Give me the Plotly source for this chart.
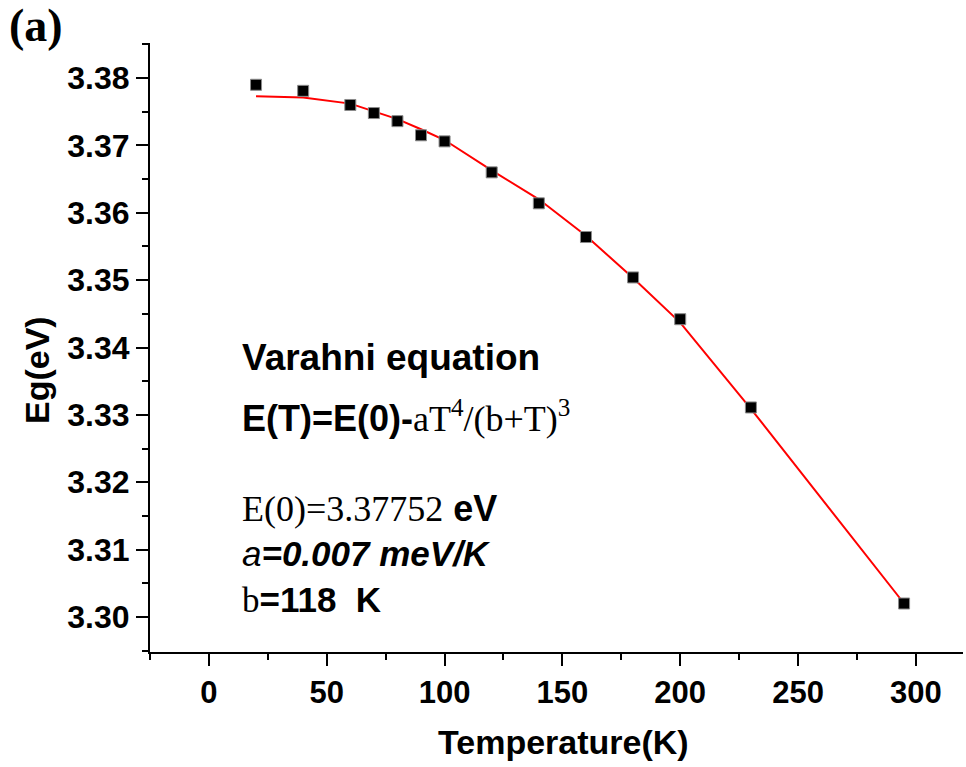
import plotly.graph_objects as go

# Measured band gap vs temperature
temperature = [20, 40, 60, 70, 80, 90, 100, 120, 140, 160, 180, 200, 230, 295]
eg_measured = [3.3790, 3.3781, 3.3760, 3.3748, 3.3736, 3.3715, 3.3706,
               3.3660, 3.3614, 3.3564, 3.3504, 3.3442, 3.3311, 3.3020]
# Fitted Varshni curve evaluated at the measured temperatures
eg_fit = [3.3773, 3.3771, 3.3762, 3.3751, 3.3739, 3.3724, 3.3708,
          3.3663, 3.3620, 3.3566, 3.3503, 3.3437, 3.3309, 3.3020]

x_ticks = [0, 50, 100, 150, 200, 250, 300]
y_ticks = [3.30, 3.31, 3.32, 3.33, 3.34, 3.35, 3.36, 3.37, 3.38]

W, H = 966, 767
L, R, T, B = 150, 3, 43, 115
PW, PH = W - L - R, H - T - B


def px(x):
    return (x - L) / PW


def py(y):
    return (H - B - y) / PH


fig = go.Figure()
fig.add_trace(go.Scatter(
    x=temperature, y=eg_fit, mode="lines",
    line=dict(color="#ff0000", width=2), showlegend=False))
fig.add_trace(go.Scatter(
    x=temperature, y=eg_measured, mode="markers",
    marker=dict(symbol="square", size=11, color="black",
                line=dict(color="#8a8a8a", width=1)),
    showlegend=False))

SANS = "Liberation Sans, Arial"
SERIF = "Liberation Serif, Times New Roman"

fig.update_xaxes(
    range=[-25, 320], tickvals=x_ticks,
    ticktext=[f"<b>{v}</b>" for v in x_ticks],
    showgrid=False, zeroline=False, showline=True, linecolor="black",
    linewidth=2, ticks="outside", ticklen=12, tickwidth=2, tickcolor="black",
    tickfont=dict(family=SANS, size=31, color="black"),
    minor=dict(tickmode="linear", tick0=-25, dtick=50, ticks="outside",
               ticklen=6, tickwidth=2, tickcolor="black"))
fig.update_yaxes(
    range=[3.2948, 3.3852], tickvals=y_ticks,
    ticktext=[f"<b>{v:.2f}</b>" for v in y_ticks],
    showgrid=False, zeroline=False, showline=True, linecolor="black",
    linewidth=2, ticks="outside", ticklen=12, tickwidth=2, tickcolor="black",
    tickfont=dict(family=SANS, size=32, color="black"),
    minor=dict(tickmode="linear", tick0=3.295, dtick=0.01, ticks="outside",
               ticklen=6, tickwidth=2, tickcolor="black"))


def note(text, x, y, size, family=SANS, xanchor="left"):
    fig.add_annotation(
        text=text, x=px(x), y=py(y), xref="paper", yref="paper",
        xanchor=xanchor, yanchor="middle", showarrow=False,
        font=dict(family=family, size=size, color="black"))


note("<b>(a)</b>", 36, 26, 46, family=SERIF, xanchor="center")
note("<b>Temperature(K)</b>", 563, 742, 34, xanchor="center")
fig.add_annotation(
    text="<b>Eg(eV)</b>", x=px(37), y=py(370), xref="paper", yref="paper",
    textangle=-90, showarrow=False, xanchor="center", yanchor="middle",
    font=dict(family=SANS, size=34, color="black"))

note("<b>Varahni equation</b>", 240, 357, 37)
note("<b>E(T)=E(0)-</b>"
     f"<span style='font-family:{SERIF};font-size:36px'>aT<sup>4</sup>/(b+T)<sup>3</sup></span>",
     240, 416, 36)
note(f"<span style='font-family:{SERIF}'>E(0)=3.37752</span> <b>eV</b>", 240, 508, 36)
note("<i>a</i><b><i>=0.007 meV/K</i></b>", 240, 553, 35)
note(f"<span style='font-family:{SERIF}'>b</span><b>=118  K</b>", 240, 600, 35)

fig.update_layout(
    width=W, height=H, margin=dict(l=L, r=R, t=T, b=B),
    paper_bgcolor="white", plot_bgcolor="white")

fig.write_html("out.html")
